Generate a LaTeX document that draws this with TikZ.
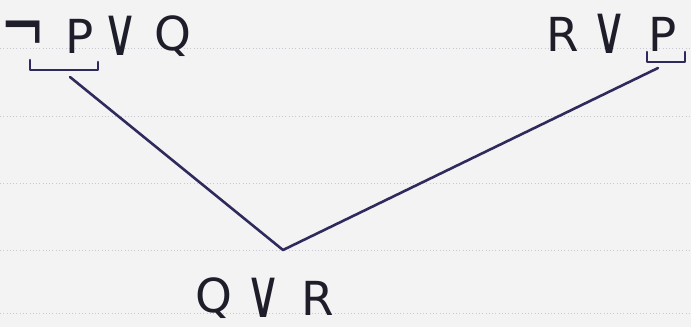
\documentclass[tikz,border=0pt]{standalone}
\usepackage{fontspec}
\usepackage{graphicx}
\setmainfont{DejaVu Sans}
\definecolor{ink}{HTML}{2E2A5C}
\definecolor{pen}{HTML}{1E1E2A}
\definecolor{paper}{HTML}{F3F3F3}
\definecolor{rule}{HTML}{C8C8D0}
\newcommand{\bigor}{\scalebox{1.05}[1.45]{∨}}
\begin{document}
\begin{tikzpicture}[x=0.03cm,y=-0.03cm,
  glyph/.style={inner sep=0pt,text=pen,font=\fontsize{40}{40}\selectfont},
  inkline/.style={draw=ink,line width=2.2pt,line cap=round,line join=round},
  ruleline/.style={draw=rule,line width=0.8pt,dotted}]
\fill[paper] (0,0) rectangle (691,327);
\useasboundingbox (0,0) rectangle (691,327);
\foreach \yy in {48,116,183,250,313}{\draw[ruleline] (0,\yy) -- (691,\yy);}
% top left clause
\node[glyph] (neg) at (23,38) {\scalebox{1.15}[1.7]{¬}};
\node[glyph] (p1) at (80,36) {P};
\node[glyph] (or1) at (121,36) {\bigor};
\node[glyph] (q1) at (173,36) {Q};
% top right clause
\node[glyph] (r1) at (563,34) {R};
\node[glyph] (or2) at (610,34) {\bigor};
\node[glyph] (p2) at (663,34) {P};
% bottom clause
\node[glyph] (q2) at (214,298) {Q};
\node[glyph] (or3) at (264,298) {\bigor};
\node[glyph] (r2) at (318,298) {R};
% brackets
\draw[inkline] (30,60) -- (30,70) -- (98,70) -- (98,62);
\draw[inkline] (647,52) -- (647,62) -- (685,62) -- (685,52);
% resolution lines
\coordinate (bl) at (70,77);
\coordinate (br) at (658,68);
\coordinate (v) at (283,250);
\draw[inkline] (bl) -- (v) -- (br);
\end{tikzpicture}
\end{document}
